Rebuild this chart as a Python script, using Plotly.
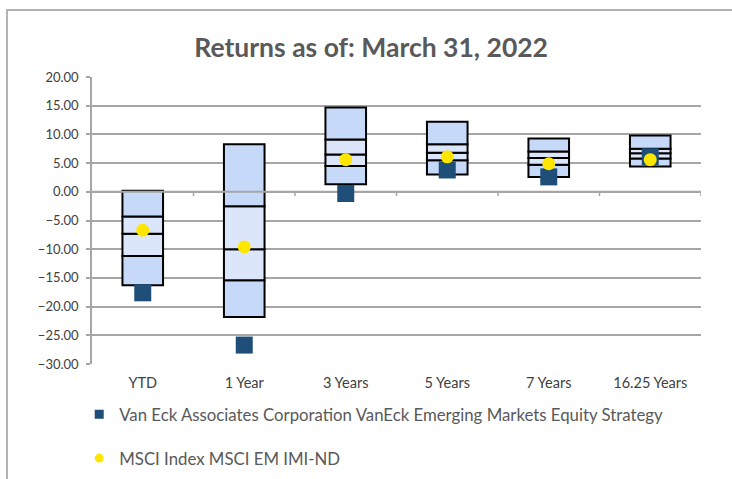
import plotly.graph_objects as go

categories = ["YTD", "1 Year", "3 Years", "5 Years", "7 Years", "16.25 Years"]
# box statistics: 5th, 25th, median, 75th, 95th percentile
p05 = [-16.3, -21.8, 1.3, 3.0, 2.6, 4.4]
p25 = [-11.2, -15.4, 4.5, 5.5, 4.7, 5.8]
p50 = [-7.3, -10.0, 6.5, 6.8, 5.9, 6.7]
p75 = [-4.3, -2.5, 9.1, 8.3, 7.0, 7.5]
p95 = [0.2, 8.3, 14.7, 12.2, 9.3, 9.8]
fund = [-17.6, -26.7, -0.3, 3.8, 2.6, 6.1]
index = [-6.7, -9.6, 5.6, 6.1, 4.9, 5.6]
fund_name = "Van Eck Associates Corporation VanEck Emerging Markets Equity Strategy"
index_name = "MSCI Index MSCI EM IMI-ND"
yticks = [-30, -25, -20, -15, -10, -5, 0, 5, 10, 15, 20]

xpos = list(range(len(categories)))
OUTER = "#c6d9f9"
INNER = "#dce6fb"
NAVY = "#1f4e79"
YELLOW = "#ffe600"
GRID = "#a6a6a6"
TXT = "#595959"
FONT = "Lato"

fig = go.Figure()
bands = [(p05, p25, OUTER), (p25, p50, INNER), (p50, p75, INNER), (p75, p95, OUTER)]
for lo, hi, col in bands:
    fig.add_trace(go.Bar(
        x=xpos, y=[h - l for l, h in zip(lo, hi)], base=lo, width=0.4,
        marker=dict(color=col, line=dict(color="black", width=2)),
        showlegend=False, hoverinfo="skip"))

# zero line drawn above boxes, below markers
fig.add_trace(go.Scatter(x=[-0.5, 5.5], y=[0, 0], mode="lines",
                         line=dict(color=GRID, width=2), showlegend=False, hoverinfo="skip"))

fig.add_trace(go.Scatter(x=xpos, y=fund, mode="markers", name=fund_name,
                         marker=dict(symbol="square", size=17, color=NAVY), showlegend=False))
fig.add_trace(go.Scatter(x=xpos, y=index, mode="markers", name=index_name,
                         marker=dict(symbol="circle", size=13, color=YELLOW), showlegend=False))
# legend entries
fig.add_trace(go.Scatter(x=[None], y=[None], mode="markers", name=fund_name, legendgroup="a",
                         marker=dict(symbol="square", size=9, color=NAVY)))
fig.add_trace(go.Scatter(x=[None], y=[None], mode="markers", name=index_name, legendgroup="b",
                         marker=dict(symbol="circle", size=9, color=YELLOW)))

shapes = []
# tick marks on the zero line at category boundaries
for i in range(len(categories)):
    shapes.append(dict(type="line", xref="x", yref="y", x0=i + 0.5, x1=i + 0.5, y0=0, y1=-0.75,
                       line=dict(color=GRID, width=1.5)))
# outer frame (top and left edges)
shapes.append(dict(type="path", xref="paper", yref="paper",
                   path="M -0.1396,-1 L -0.1396,1.2334 L 2,1.2334",
                   line=dict(color="#b3b3b3", width=2)))

fig.update_layout(
    width=732, height=479,
    margin=dict(l=92, r=31, t=77, b=115, autoexpand=False),
    paper_bgcolor="white", plot_bgcolor="white",
    barmode="overlay",
    font=dict(family=FONT, color=TXT),
    title=dict(text="Returns as of: March 31, 2022", xref="container", x=0.507, xanchor="center",
               yref="container", y=1 - 48 / 479, yanchor="middle",
               font=dict(family=FONT, size=26.5, color=TXT, weight=700)),
    xaxis=dict(range=[-0.5, 5.5], tickmode="array", tickvals=xpos, ticktext=categories,
               showgrid=False, zeroline=False, showline=False, ticks="",
               ticklabelstandoff=8, tickfont=dict(size=14.5, color="#404040")),
    yaxis=dict(range=[-30, 20], tickmode="array", tickvals=yticks, tickformat=".2f",
               showgrid=True, gridcolor=GRID, gridwidth=1.5, zeroline=False,
               showline=True, linecolor=GRID, linewidth=1.5,
               ticks="outside", ticklen=4, tickcolor=GRID, tickwidth=1.5,
               ticklabelstandoff=5, tickfont=dict(size=13, color="#404040")),
    legend=dict(x=-0.021, xanchor="left", y=-0.1145, yanchor="top", orientation="v",
                tracegroupgap=19, traceorder="grouped",
                font=dict(size=16.8, color=TXT), bgcolor="rgba(0,0,0,0)"),
    shapes=shapes,
)

fig.write_html("out.html", config={"displayModeBar": False},
               post_script="document.body.style.margin='0';")
